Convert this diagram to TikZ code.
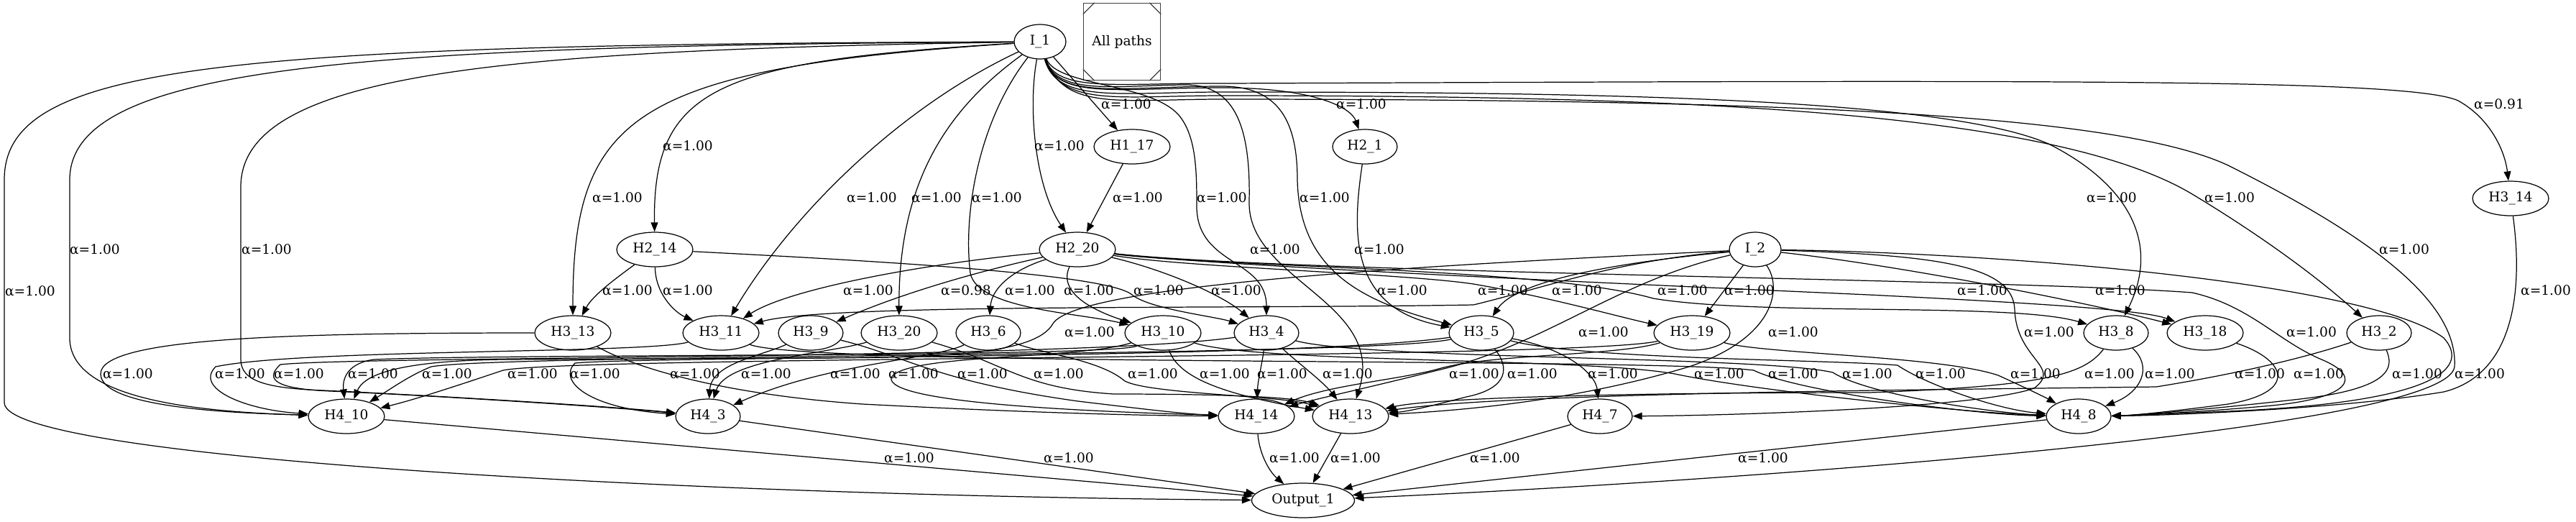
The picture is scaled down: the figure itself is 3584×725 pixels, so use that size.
\documentclass[tikz,border=0pt]{standalone}
\usepackage{fontspec}
\setmainfont{DejaVu Serif}
\usetikzlibrary{arrows.meta, shapes.geometric}

\begin{document}
\begin{tikzpicture}[
  x=0.02cm, y=-0.02cm,
  unit/.style={ellipse, draw, line width=0.7pt, inner sep=0pt,
    minimum width=2.12cm, minimum height=0.96cm,
    font=\fontsize{10.6}{12}\selectfont},
  unitn/.style={unit, minimum width=1.8cm},
  inp/.style={unit, minimum width=1.44cm},
  arr/.style={-{Triangle[length=7.4pt, width=5.6pt]}, line width=0.7pt},
  wt/.style={font=\fontsize{10.6}{12}\selectfont, inner sep=0pt}
]
\useasboundingbox (0,0) rectangle (3584,725);

% units
\node[inp] (I_1) at (1447,58) {I\_1};
\node[inp] (I_2) at (2442,347) {I\_2};
\node[draw=black!75, line width=0.9pt, minimum width=2.14cm, minimum height=2.14cm,
  inner sep=0pt, font=\fontsize{10.6}{12}\selectfont] (legend) at (1561,58) {All paths};
\draw[black!75, line width=0.7pt] ([yshift=-0.32cm]legend.north west) -- ([xshift=0.32cm]legend.north west);
\draw[black!75, line width=0.7pt] ([yshift=-0.32cm]legend.north east) -- ([xshift=-0.32cm]legend.north east);
\draw[black!75, line width=0.7pt] ([yshift=0.32cm]legend.south west) -- ([xshift=0.32cm]legend.south west);
\draw[black!75, line width=0.7pt] ([yshift=0.32cm]legend.south east) -- ([xshift=-0.32cm]legend.south east);

\node[unit] (H1_17) at (1575,204) {H1\_17};
\node[unitn] (H2_1) at (1899,204) {H2\_1};
\node[unit] (H3_14) at (3493,276) {H3\_14};
\node[unit] (H2_14) at (911,347) {H2\_14};
\node[unit] (H2_20) at (1499,347) {H2\_20};
\node[unit] (H3_13) at (797,463) {H3\_13};
\node[unit] (H3_11) at (1003,463) {H3\_11};
\node[unitn] (H3_9) at (1128,463) {H3\_9};
\node[unit] (H3_20) at (1251,463) {H3\_20};
\node[unitn] (H3_6) at (1375,463) {H3\_6};
\node[unit] (H3_10) at (1618,463) {H3\_10};
\node[unitn] (H3_4) at (1762,463) {H3\_4};
\node[unitn] (H3_5) at (2061,463) {H3\_5};
\node[unit] (H3_19) at (2354,463) {H3\_19};
\node[unitn] (H3_8) at (2944,463) {H3\_8};
\node[unit] (H3_18) at (3068,463) {H3\_18};
\node[unitn] (H3_2) at (3310,463) {H3\_2};
\node[unit] (H4_10) at (482,579) {H4\_10};
\node[unitn] (H4_3) at (985,579) {H4\_3};
\node[unit] (H4_14) at (1748,579) {H4\_14};
\node[unit] (H4_13) at (1879,579) {H4\_13};
\node[unitn] (H4_7) at (2226,579) {H4\_7};
\node[unitn] (H4_8) at (2892,579) {H4\_8};
\node[unit, minimum width=2.86cm] (Output_1) at (1813,696) {Output\_1};

% from I_1
\draw[arr] (I_1) -- (H1_17) node[wt] at (1567,145) {α=1.00};
\draw[arr] (I_1) .. controls (1470,140) and (1560,122) .. (1700,122) .. controls (1830,122) and (1880,150) .. (H2_1) node[wt] at (1894,145) {α=1.00};
\draw[arr] (I_1) .. controls (1470,130) and (1560,115) .. (1700,116) .. controls (2800,112) and (3350,108) .. (3420,140) .. controls (3465,165) and (3485,210) .. (H3_14) node[wt] at (3477,145) {α=0.91};
\draw[arr] (I_1) .. controls (1000,85) and (908,120) .. (H2_14) node[wt] at (957,203) {α=1.00};
\draw[arr] (I_1) .. controls (1430,150) and (1440,260) .. (H2_20) node[wt] at (1474,203) {α=1.00};
\draw[arr] (I_1) .. controls (880,95) and (797,160) .. (H3_13) node[wt] at (859,275) {α=1.00};
\draw[arr] (I_1) .. controls (1250,150) and (1100,300) .. (H3_11) node[wt] at (1213,275) {α=1.00};
\draw[arr] (I_1) .. controls (1320,150) and (1250,250) .. (H3_20) node[wt] at (1303,275) {α=1.00};
\draw[arr] (I_1) .. controls (1360,170) and (1340,300) .. (1350,380) .. controls (1360,430) and (1500,435) .. (H3_10) node[wt] at (1387,275) {α=1.00};
\draw[arr] (H1_17) -- (H2_20) node[wt] at (1583,275) {α=1.00};
\draw[arr] (I_1) .. controls (1470,120) and (1600,115) .. (1640,160) .. controls (1665,190) and (1665,240) .. (1665,290) .. controls (1668,370) and (1762,360) .. (H3_4) node[wt] at (1700,275) {α=1.00};
\draw[arr] (I_1) .. controls (1470,135) and (1560,118) .. (1650,118) .. controls (1720,118) and (1740,180) .. (1738,280) .. controls (1735,390) and (1930,420) .. (H4_13) node[wt] at (1774,347) {α=1.00};
\draw[arr] (I_1) .. controls (1470,140) and (1560,120) .. (1700,120) .. controls (1780,120) and (1805,170) .. (1805,250) .. controls (1808,380) and (1900,420) .. (H3_5) node[wt] at (1843,275) {α=1.00};
\draw[arr] (I_1) .. controls (1470,145) and (1560,128) .. (1700,128) .. controls (2200,128) and (2700,135) .. (2850,200) .. controls (2950,250) and (3010,330) .. (H3_8) node[wt] at (2938,275) {α=1.00};
\draw[arr] (I_1) .. controls (1475,150) and (1560,133) .. (1700,133) .. controls (2300,133) and (2850,150) .. (3050,270) .. controls (3150,330) and (3230,390) .. (H3_2) node[wt] at (3102,275) {α=1.00};
\draw[arr] (I_1) .. controls (1480,155) and (1560,138) .. (1700,138) .. controls (2500,138) and (2950,160) .. (3100,230) .. controls (3300,330) and (3420,420) .. (3415,510) .. controls (3405,600) and (2400,670) .. (Output_1) node[wt] at (3345,347) {α=1.00};
\draw[arr] (I_1) .. controls (300,62) and (6,90) .. (6,250) -- (6,560) .. controls (6,640) and (1000,690) .. (Output_1) node[wt] at (42,405) {α=1.00};
\draw[arr] (I_1) .. controls (500,64) and (97,90) .. (97,250) -- (97,470) .. controls (97,550) and (250,572) .. (H4_10) node[wt] at (132,347) {α=1.00};
\draw[arr] (I_1) .. controls (700,70) and (335,100) .. (335,260) -- (335,500) .. controls (335,530) and (370,540) .. (450,543) .. controls (600,550) and (850,565) .. (H4_3) node[wt] at (371,347) {α=1.00};

% from H2_14, H2_20, H2_1
\draw[arr] (H2_14) .. controls (860,385) and (825,410) .. (H3_13) node[wt] at (873,404) {α=1.00};
\draw[arr] (H2_14) .. controls (912,410) and (940,435) .. (H3_11) node[wt] at (957,404) {α=1.00};
\draw[arr] (H2_14) .. controls (1200,362) and (1540,380) .. (1575,410) .. controls (1600,430) and (1690,440) .. (H3_4) node[wt] at (1612,404) {α=1.00};
\draw[arr] (H2_20) .. controls (1300,365) and (1100,400) .. (H3_11) node[wt] at (1208,404) {α=1.00};
\draw[arr] (H2_20) .. controls (1350,380) and (1250,410) .. (H3_9) node[wt] at (1344,404) {α=0.98};
\draw[arr] (H2_20) .. controls (1410,375) and (1380,400) .. (H3_6) node[wt] at (1433,404) {α=1.00};
\draw[arr] (H2_20) .. controls (1470,410) and (1530,435) .. (H3_10) node[wt] at (1515,404) {α=1.00};
\draw[arr] (H2_20) .. controls (1620,375) and (1700,410) .. (H3_4) node[wt] at (1720,404) {α=1.00};
\draw[arr] (H2_20) .. controls (1650,372) and (1950,380) .. (2050,395) .. controls (2150,412) and (2250,440) .. (H3_19) node[wt] at (1951,404) {α=1.00};
\draw[arr] (H2_20) .. controls (1700,372) and (2150,372) .. (2300,415) .. controls (2450,440) and (2800,420) .. (H3_8) node[wt] at (2341,404) {α=1.00};
\draw[arr] (H2_20) .. controls (1700,370) and (2200,392) .. (2600,410) .. controls (2800,420) and (2980,430) .. (H3_18) node[wt] at (2758,404) {α=1.00};
\draw[arr] (H2_20) .. controls (1800,380) and (2800,388) .. (3050,407) .. controls (3130,425) and (3170,475) .. (3230,500) .. controls (3290,525) and (3270,555) .. (3150,565) .. controls (3050,574) and (2960,578) .. (H4_8) node[wt] at (3216,462) {α=1.00};
\draw[arr] (H2_1) .. controls (1880,330) and (1880,430) .. (H3_5) node[wt] at (1919,347) {α=1.00};

% from I_2 and H3_14
\draw[arr] (I_2) .. controls (2250,362) and (2150,400) .. (2050,424) .. controls (1700,430) and (1150,422) .. (H3_11) node[wt] at (2091,404) {α=1.00};
\draw[arr] (I_2) .. controls (2250,365) and (2110,390) .. (H3_5) node[wt] at (2194,404) {α=1.00};
\draw[arr] (I_2) -- (H3_19) node[wt] at (2434,404) {α=1.00};
\draw[arr] (I_2) .. controls (2650,370) and (2900,420) .. (H3_18) node[wt] at (2950,404) {α=1.00};
\draw[arr] (I_2) .. controls (2000,368) and (1500,395) .. (1465,450) .. controls (1440,495) and (1300,498) .. (1100,498) -- (700,500) .. controls (540,502) and (505,525) .. (H4_10) node[wt] at (1516,462) {α=1.00};
\draw[arr] (I_2) .. controls (2250,390) and (2150,480) .. (2000,515) .. controls (1900,540) and (1830,555) .. (H4_14) node[wt] at (2231,462) {α=1.00};
\draw[arr] (I_2) .. controls (2480,400) and (2470,470) .. (2350,510) .. controls (2200,555) and (2050,570) .. (H4_13) node[wt] at (2495,462) {α=1.00};
\draw[arr] (I_2) .. controls (2700,355) and (2800,370) .. (2803,430) .. controls (2805,500) and (2870,510) .. (2830,540) .. controls (2750,568) and (2400,578) .. (H4_7) node[wt] at (2851,462) {α=1.00};
\draw[arr] (I_2) .. controls (2800,352) and (3300,395) .. (3400,470) .. controls (3440,515) and (3380,560) .. (3100,572) .. controls (3000,576) and (2960,578) .. (H4_8) node[wt] at (3450,520) {α=1.00};
\draw[arr] (H3_14) .. controls (3510,400) and (3500,520) .. (3400,545) .. controls (3250,570) and (3000,578) .. (H4_8) node[wt] at (3542,404) {α=1.00};

% from layer 3
\draw[arr] (H3_13) .. controls (400,463) and (140,470) .. (140,520) .. controls (140,570) and (350,575) .. (H4_10) node[wt] at (178,520) {α=1.00};
\draw[arr] (H3_11) .. controls (900,492) and (420,485) .. (300,510) .. controls (270,540) and (340,570) .. (H4_10) node[wt] at (334,520) {α=1.00};
\draw[arr] (H3_4) .. controls (1500,500) and (500,495) .. (390,507) .. controls (365,530) and (390,541) .. (460,544) .. controls (600,550) and (850,566) .. (H4_3) node[wt] at (416,520) {α=1.00};
\draw[arr] (H3_10) .. controls (1550,497) and (700,492) .. (520,500) .. controls (485,505) and (476,525) .. (H4_10) node[wt] at (519,520) {α=1.00};
\draw[arr] (H3_5) .. controls (1900,497) and (700,492) .. (600,510) .. controls (570,522) and (545,540) .. (H4_10) node[wt] at (622,520) {α=1.00};
\draw[arr] (H3_19) .. controls (2200,500) and (800,495) .. (700,515) .. controls (640,535) and (580,555) .. (H4_10) node[wt] at (741,520) {α=1.00};
\draw[arr] (H3_5) .. controls (1800,500) and (900,495) .. (800,505) .. controls (775,530) and (820,568) .. (H4_3) node[wt] at (828,520) {α=1.00};
\draw[arr] (H3_13) .. controls (880,510) and (1000,548) .. (1200,562) .. controls (1450,575) and (1600,578) .. (H4_14) node[wt] at (967,520) {α=1.00};
\draw[arr] (H3_20) .. controls (1150,492) and (1010,500) .. (H4_3) node[wt] at (1066,520) {α=1.00};
\draw[arr] (H3_9) .. controls (1060,495) and (990,505) .. (H4_3);
\draw[arr] (H3_6) .. controls (1300,500) and (1150,505) .. (H4_3) node[wt] at (1190,520) {α=1.00};
\draw[arr] (H3_10) .. controls (1500,500) and (1260,492) .. (1240,525) .. controls (1232,560) and (1500,572) .. (H4_14) node[wt] at (1271,520) {α=1.00};
\draw[arr] (H3_9) .. controls (1260,495) and (1300,530) .. (1500,558) .. controls (1600,570) and (1650,576) .. (H4_14) node[wt] at (1367,520) {α=1.00};
\draw[arr] (H3_20) .. controls (1400,505) and (1420,540) .. (1550,548) .. controls (1700,548) and (1800,552) .. (H4_13) node[wt] at (1473,520) {α=1.00};
\draw[arr] (H3_6) .. controls (1450,492) and (1530,500) .. (1565,530) .. controls (1600,548) and (1780,550) .. (H4_13) node[wt] at (1604,520) {α=1.00};
\draw[arr] (H3_10) .. controls (1640,525) and (1700,548) .. (H4_13) node[wt] at (1704,520) {α=1.00};
\draw[arr] (H3_4) .. controls (1755,510) and (1750,530) .. (H4_14) node[wt] at (1784,520) {α=1.00};
\draw[arr] (H3_4) .. controls (1800,500) and (1840,530) .. (H4_13) node[wt] at (1875,520) {α=1.00};
\draw[arr] (H3_19) .. controls (2250,495) and (2080,492) .. (2005,512) .. controls (1950,528) and (1850,535) .. (H4_14) node[wt] at (2051,520) {α=1.00};
\draw[arr] (H3_5) .. controls (2100,510) and (2100,540) .. (2040,552) .. controls (1990,565) and (1960,572) .. (H4_13) node[wt] at (2132,520) {α=1.00};
\draw[arr] (H3_5) .. controls (2180,485) and (2220,520) .. (H4_7) node[wt] at (2244,520) {α=1.00};
\draw[arr] (H3_10) .. controls (1750,505) and (2200,497) .. (2330,520) .. controls (2450,545) and (2750,575) .. (H4_8) node[wt] at (2392,520) {α=1.00};
\draw[arr] (H3_11) .. controls (1120,510) and (2300,497) .. (2440,515) .. controls (2500,545) and (2750,577) .. (H4_8) node[wt] at (2495,520) {α=1.00};
\draw[arr] (H3_4) .. controls (1900,500) and (2450,495) .. (2550,518) .. controls (2600,550) and (2780,575) .. (H4_8) node[wt] at (2598,520) {α=1.00};
\draw[arr] (H3_5) .. controls (2200,500) and (2550,500) .. (2640,508) .. controls (2680,535) and (2780,570) .. (H4_8) node[wt] at (2700,520) {α=1.00};
\draw[arr] (H3_19) .. controls (2450,492) and (2700,495) .. (2780,522) .. controls (2820,540) and (2850,555) .. (H4_8) node[wt] at (2832,520) {α=1.00};
\draw[arr] (H3_8) .. controls (2900,520) and (2850,537) .. (2600,546) .. controls (2300,546) and (2000,552) .. (H4_13) node[wt] at (2935,520) {α=1.00};
\draw[arr] (H3_8) .. controls (2995,510) and (2980,545) .. (H4_8) node[wt] at (3019,520) {α=1.00};
\draw[arr] (H3_2) .. controls (3200,500) and (3100,522) .. (3000,538) .. controls (2700,542) and (2100,546) .. (H4_13) node[wt] at (3144,520) {α=1.00};
\draw[arr] (H3_18) .. controls (3180,500) and (3200,545) .. (3100,562) .. controls (3000,575) and (2960,578) .. (H4_8) node[wt] at (3226,520) {α=1.00};
\draw[arr] (H3_2) .. controls (3330,510) and (3330,540) .. (3200,555) .. controls (3050,572) and (2960,578) .. (H4_8) node[wt] at (3363,520) {α=1.00};

% into Output_1
\draw[arr] (H4_10) -- (Output_1) node[wt] at (1265,637) {α=1.00};
\draw[arr] (H4_3) -- (Output_1) node[wt] at (1487,637) {α=1.00};
\draw[arr] (H4_14) .. controls (1752,630) and (1765,655) .. (Output_1) node[wt] at (1801,637) {α=1.00};
\draw[arr] (H4_13) -- (Output_1) node[wt] at (1886,637) {α=1.00};
\draw[arr] (H4_7) -- (Output_1) node[wt] at (2080,637) {α=1.00};
\draw[arr] (H4_8) -- (Output_1) node[wt] at (2453,637) {α=1.00};

\end{tikzpicture}
\end{document}
